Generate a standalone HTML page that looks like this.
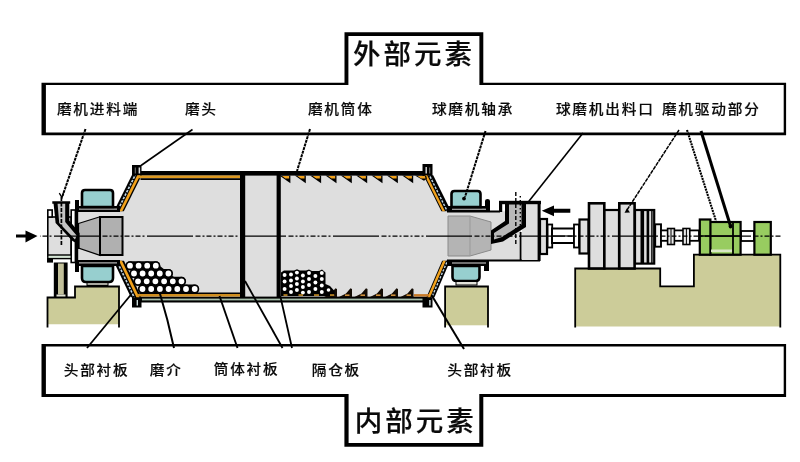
<!DOCTYPE html>
<html lang="zh">
<head>
<meta charset="utf-8">
<title>球磨机结构</title>
<style>
html,body{margin:0;padding:0;background:#fff;}
body{width:800px;height:462px;overflow:hidden;position:relative;font-family:"Liberation Sans","Noto Sans CJK SC",sans-serif;}
svg{position:absolute;left:0;top:0;display:block;}
.lbl{font-family:"Liberation Sans","Noto Sans CJK SC",sans-serif;font-size:13.6px;letter-spacing:1.65px;fill:#0a0a0a;font-weight:500;stroke:#0a0a0a;stroke-width:0.14px;}
.ttl{font-family:"Liberation Sans","Noto Sans CJK SC",sans-serif;font-size:27.5px;letter-spacing:3px;fill:#0a0a0a;font-weight:500;stroke:#0a0a0a;stroke-width:0.2px;}
</style>
</head>
<body>
<svg width="800" height="462" viewBox="0 0 800 462">
<rect x="0" y="0" width="800" height="462" fill="#fff"/>

<!-- ===== FRAMES ===== -->
<g id="frames" fill="#000" fill-rule="evenodd" stroke="none">
  <path d="M41.5,82.7 H344.5 V32.3 H483.3 V82.7 H786.1 V135.3 H41.5 Z M45.9,85.1 H348.4 V36 H479.4 V85.1 H783.7 V132.4 H45.9 Z"/>
  <path d="M41.5,344 H786.1 V397 H483.3 V446.7 H344.4 V397 H41.5 Z M45.9,346.5 H783.7 V394 H479.3 V443 H348.6 V394 H45.9 Z"/>
</g>

<!-- ===== PEDESTALS / FOUNDATIONS ===== -->
<g id="foundations" fill="#cccc99" stroke="none">
  <path d="M47.5,297.5 H75 V286.5 H119 V324.3 H47.5 Z"/>
  <rect x="445" y="286.5" width="43" height="38.8"/>
  <path d="M575,268.5 H660 V286.4 H693.9 V254.7 H780.5 V326.4 H575 Z"/>
</g>
<g fill="none" stroke="#000" stroke-width="1.8">
  <path d="M47.5,327.5 V297.5 H75 V286.5 H119 V327.5"/>
  <path d="M445.1,327.5 V286.5 H488 V327.5"/>
  <path d="M575.2,327.5 V268.5 H660.2 V286.4 H693.9 V254.7 H780.3 V327.5"/>
</g>

<!-- ===== MILL BODY ===== -->
<g id="mill">
  <!-- interior gray -->
  <path d="M140.9,175 H424.3 L442.2,211.3 L442.9,260.8 L427.3,297.2 H140.6 L123.2,260.8 L123.0,211.3 Z" fill="#dedede"/>
  <rect x="75" y="211" width="50" height="50" fill="#dedede"/>
  <rect x="436" y="211.3" width="85" height="49.5" fill="#dedede"/>

  <!-- shell top / bottom -->
  <rect x="139" y="171" width="286" height="4.6" fill="#000"/>
  <rect x="134" y="296.6" width="297" height="5.9" fill="#000"/>
  <rect x="142" y="298.6" width="281" height="1.8" fill="#a8c0ac"/>

  <!-- flanges -->
  <rect x="132" y="165" width="9.5" height="11" fill="#000"/>
  <rect x="422.5" y="164" width="10" height="12" fill="#000"/>
  <rect x="132" y="297" width="9.5" height="10.5" fill="#000"/>
  <rect x="422.5" y="297" width="10" height="10.5" fill="#000"/>
  <rect x="138.6" y="167.5" width="1.5" height="6" fill="#ddd"/><rect x="134.8" y="167.5" width="0.9" height="6" fill="#888"/>
  <rect x="425.5" y="167" width="1.4" height="6.5" fill="#ddd"/><rect x="429.3" y="167.5" width="0.9" height="6" fill="#888"/>
  <rect x="136.6" y="300" width="1.4" height="5.5" fill="#cdd"/>
  <rect x="429.2" y="300" width="1.4" height="5.5" fill="#cdd"/>

  <!-- cones -->
  <path d="M131.82,175.30 L141.72,175.30 L123.83,211.30 L113.93,211.30 Z" fill="#000"/>
  <path d="M134.22,175.30 L136.02,175.30 L118.13,211.30 L116.33,211.30 Z" fill="#c6dcea"/>
  <path d="M137.22,175.30 L140.22,175.30 L122.33,211.30 L119.33,211.30 Z" fill="#f2a21c"/>
  <line x1="135.12" y1="175.30" x2="117.23" y2="211.30" stroke="#000" stroke-width="2" stroke-dasharray="1.4 2.4"/>
  <path d="M433.18,175.30 L423.48,175.30 L441.37,211.30 L451.07,211.30 Z" fill="#000"/>
  <path d="M430.18,175.30 L428.58,175.30 L446.47,211.30 L448.07,211.30 Z" fill="#c6dcea"/>
  <path d="M427.18,175.30 L424.58,175.30 L442.47,211.30 L445.07,211.30 Z" fill="#f2a21c"/>
  <line x1="429.38" y1="175.30" x2="447.27" y2="211.30" stroke="#000" stroke-width="2" stroke-dasharray="1.4 2.4"/>
  <path d="M130.84,297.20 L141.44,297.20 L123.97,260.80 L113.37,260.80 Z" fill="#000"/>
  <path d="M133.24,297.20 L135.04,297.20 L117.57,260.80 L115.77,260.80 Z" fill="#c6dcea"/>
  <path d="M136.44,297.20 L139.44,297.20 L121.97,260.80 L118.97,260.80 Z" fill="#f2a21c"/>
  <line x1="134.14" y1="297.20" x2="116.67" y2="260.80" stroke="#000" stroke-width="2" stroke-dasharray="1.4 2.4"/>
  <path d="M434.47,297.20 L426.47,297.20 L442.12,260.80 L450.12,260.80 Z" fill="#000"/>
  <path d="M432.57,297.20 L431.07,297.20 L446.72,260.80 L448.22,260.80 Z" fill="#c6dcea"/>
  <path d="M430.17,297.20 L427.47,297.20 L443.12,260.80 L445.82,260.80 Z" fill="#f2a21c"/>
  <line x1="431.82" y1="297.20" x2="447.47" y2="260.80" stroke="#000" stroke-width="2" stroke-dasharray="1.4 2.4"/>
  <!-- orange liner straight parts -->
  <g stroke="#dd981f" fill="none">
    <path d="M240,176.85 H138.4" stroke-width="2.7"/>
    <path d="M240,295.3 H137.4" stroke-width="2.6" stroke="#cf8d1e"/>
  </g>
  <path d="M414,295.3 H429" stroke="#c87a28" stroke-width="2.4" fill="none"/>
  <g stroke="#000" fill="none">
    <path d="M240,179.1 H140.5" stroke-width="1.8"/>
    <path d="M240,293.15 H139.6" stroke-width="1.5"/>
  </g>

  <!-- partitions -->
  <rect x="240" y="175" width="5.2" height="122" fill="#000"/>
  <rect x="276.6" y="175" width="4.2" height="122" fill="#000"/>

  <!-- top saw-tooth liner -->
  <g fill="#000">
    <path d="M279.4,175.4 H290.4 V183.2 Z"/>
    <path d="M294.8,175.4 H305.8 V183.2 Z"/>
    <path d="M310.1,175.4 H321.1 V183.2 Z"/>
    <path d="M325.5,175.4 H336.5 V183.2 Z"/>
    <path d="M340.8,175.4 H351.8 V183.2 Z"/>
    <path d="M356.2,175.4 H367.2 V183.2 Z"/>
    <path d="M371.5,175.4 H382.5 V183.2 Z"/>
    <path d="M386.9,175.4 H397.9 V183.2 Z"/>
    <path d="M402.2,175.4 H413.2 V183.2 Z"/>
    <path d="M415,175.4 H426 L427,178.5 L424,180.8 Z"/>
  </g>
  <g fill="#f2a21c">
    <path d="M282.0,176 H289.1 V178.5 H285.4 Z"/>
    <path d="M297.4,176 H304.5 V178.5 H300.8 Z"/>
    <path d="M312.7,176 H319.8 V178.5 H316.1 Z"/>
    <path d="M328.1,176 H335.2 V178.5 H331.5 Z"/>
    <path d="M343.4,176 H350.5 V178.5 H346.8 Z"/>
    <path d="M358.8,176 H365.9 V178.5 H362.2 Z"/>
    <path d="M374.1,176 H381.2 V178.5 H377.5 Z"/>
    <path d="M389.4,176 H396.6 V178.5 H392.9 Z"/>
    <path d="M404.8,176 H411.9 V178.5 H408.2 Z"/>
    <path d="M417.6,176 H424.8 L425.6,178.4 H421 Z"/>
  </g>
  <!-- bottom saw-tooth liner -->
  <g fill="#140c04" stroke="none">
    <path d="M324,297 L331,293.5 L335.5,288.3 L337,289 V297 Z"/>
    <path d="M339,297 L346,293.5 L350.5,288.3 L352,289 V297 Z"/>
    <path d="M354.5,297 L361.5,293.5 L366,288.3 L367.5,289 V297 Z"/>
    <path d="M370,297 L377,293.5 L381.5,288.3 L383,289 V297 Z"/>
    <path d="M385,297 L392,293.5 L396.5,288.3 L398,289 V297 Z"/>
    <path d="M400.5,297 L407.5,293.5 L412,288.3 L413.5,289 V297 Z"/>
  </g>
  <g fill="#d0903a">
    <rect x="330" y="294.4" width="4.5" height="1.6"/>
    <rect x="345" y="294.4" width="4.5" height="1.6"/>
    <rect x="360.5" y="294.4" width="4.5" height="1.6"/>
    <rect x="376" y="294.4" width="4.5" height="1.6"/>
    <rect x="391" y="294.4" width="4.5" height="1.6"/>
    <rect x="406.5" y="294.4" width="4.5" height="1.6"/>
  </g>
</g>

<!-- ===== BALLS (large) ===== -->
<g fill="#000">
  <rect x="125.5" y="261.2" width="34.8" height="9" rx="4.5"/>
  <rect x="129.5" y="269" width="43.4" height="9" rx="4.5"/>
  <rect x="133.5" y="276.8" width="52.5" height="9" rx="4.5"/>
  <rect x="138" y="284.5" width="61.2" height="9" rx="4.5"/>
  <path d="M130,266 L143,290 H190 L160,266 Z"/>
</g>
<g id="balls" fill="#fff" stroke="#000" stroke-width="1.6">
  <circle cx="130" cy="265.7" r="3.7"/><circle cx="138.6" cy="265.7" r="3.7"/><circle cx="147.2" cy="265.7" r="3.7"/><circle cx="155.8" cy="265.7" r="3.7"/>
  <circle cx="134" cy="273.5" r="3.7"/><circle cx="142.6" cy="273.5" r="3.7"/><circle cx="151.2" cy="273.5" r="3.7"/><circle cx="159.8" cy="273.5" r="3.7"/><circle cx="168.4" cy="273.5" r="3.7"/>
  <circle cx="138" cy="281.3" r="3.7"/><circle cx="146.7" cy="281.3" r="3.7"/><circle cx="155.4" cy="281.3" r="3.7"/><circle cx="164.1" cy="281.3" r="3.7"/><circle cx="172.8" cy="281.3" r="3.7"/><circle cx="181.5" cy="281.3" r="3.7"/>
  <circle cx="142.5" cy="289" r="3.7"/><circle cx="151.2" cy="289" r="3.7"/><circle cx="159.9" cy="289" r="3.7"/><circle cx="168.6" cy="289" r="3.7"/><circle cx="177.3" cy="289" r="3.7"/><circle cx="186" cy="289" r="3.7"/><circle cx="194.7" cy="289" r="3.7"/>
</g>
<!-- ===== BALLS (small) ===== -->
<g id="balls2">
  <path d="M281,296 V272.5 L284,270.5 H294 L297,269.3 L300,270.5 H306 L309,269.6 L312,271 H319 L322,269.6 L325.5,272.5 V284 L330,286 L334.5,291 V296 Z" fill="#000"/>
  <g fill="#fff"><circle cx="284.6" cy="275" r="1.95"/><circle cx="284.6" cy="281.5" r="1.95"/><circle cx="284.6" cy="289" r="1.95"/><circle cx="291" cy="274.5" r="1.95"/><circle cx="291" cy="280.5" r="1.95"/><circle cx="291" cy="286" r="1.95"/><circle cx="291" cy="292" r="1.95"/><circle cx="296.9" cy="272.6" r="1.95"/><circle cx="296.9" cy="278.5" r="1.95"/><circle cx="296.9" cy="284" r="1.95"/><circle cx="296.9" cy="290" r="1.95"/><circle cx="302.9" cy="275.5" r="1.95"/><circle cx="302.9" cy="281.5" r="1.95"/><circle cx="302.9" cy="287" r="1.95"/><circle cx="302.9" cy="292.6" r="1.95"/><circle cx="309" cy="273" r="1.95"/><circle cx="309" cy="279" r="1.95"/><circle cx="309" cy="285" r="1.95"/><circle cx="309" cy="292" r="1.95"/><circle cx="315.4" cy="276" r="1.95"/><circle cx="315.4" cy="282.5" r="1.95"/><circle cx="315.4" cy="289" r="1.95"/><circle cx="321.8" cy="273" r="1.95"/><circle cx="321.8" cy="279" r="1.95"/><circle cx="321.8" cy="285.5" r="1.95"/><circle cx="321.8" cy="292" r="1.95"/><circle cx="328.5" cy="290" r="1.8"/></g>
  <g fill="#d89a2a"><rect x="283.5" y="294.3" width="4" height="1.5"/><rect x="298.5" y="294.3" width="4.5" height="1.5"/><rect x="314" y="294.3" width="5" height="1.5"/><rect x="330" y="294.3" width="4" height="1.5"/></g>
</g>

<!-- ===== LEFT TRUNNION + BEARINGS ===== -->
<g id="left-end">
  <!-- inner dark parts -->
  <path d="M78.5,223.5 L100,216.8 V255.4 L78.5,248 Z" fill="#b0b0b0" stroke="#000" stroke-width="1.2"/>
  <rect x="100" y="217" width="22.5" height="38" fill="#b0b0b0" stroke="#000" stroke-width="2"/>
  <!-- upper bearing -->
  <path d="M75,200 H79 V206 H120 V212 H75 Z" fill="#000"/>
  <rect x="79" y="208.6" width="38" height="1" fill="#ddd"/>
  <path d="M82,207 V193 Q82,190 85,190 H110 Q113,190 113,193 V207 Z" fill="#97cfcf" stroke="#000" stroke-width="2.6"/>
  <!-- lower bearing -->
  <path d="M75,272 H79 V266 H120 V260 H75 Z" fill="#000"/>
  <rect x="79" y="262.4" width="38" height="1" fill="#ddd"/>
  <path d="M82,266 V278 Q82,282 86,282 H109 Q113,282 113,278 V266 Z" fill="#97cfcf" stroke="#000" stroke-width="2.6"/>
  <rect x="87" y="282.5" width="21" height="3" fill="#a8a8a0" stroke="#000" stroke-width="1"/>

  <!-- feed housing -->
  <rect x="47.8" y="217" width="23.4" height="39" fill="#dedede" stroke="#000" stroke-width="1.6"/>
  <rect x="47.8" y="210" width="4.4" height="7" fill="#fff" stroke="#000" stroke-width="1.6"/>
  <rect x="71.2" y="210" width="4.2" height="52.5" fill="#fff" stroke="#000" stroke-width="1.6"/>
  <rect x="47.8" y="255" width="23.4" height="3.6" fill="#d6e6d6" stroke="#000" stroke-width="1.4"/>
  <rect x="47" y="258" width="6" height="4.6" fill="#000"/>
  <rect x="75.4" y="200.8" width="2.8" height="69.5" fill="#000"/>
  <!-- chute -->
  <path d="M52.3,201.3 H70.2 V203.8 H69.3 V220.5 L79.6,233 V249 H77 V243.5 L72.5,241 L55.6,223 L53.6,203.8 H52.3 Z" fill="#000"/>
  <path d="M57.6,203.8 H65.2 V222 L76.6,235.6 L75,239.6 L59.2,223 Z" fill="#c4c4c4"/>
  <line x1="61.4" y1="197" x2="61.4" y2="246" stroke="#000" stroke-width="1.7" stroke-dasharray="4 1.5"/>
  <!-- support post -->
  <rect x="53.8" y="262.5" width="13.8" height="35" fill="#000"/>
  <rect x="58" y="263.5" width="5.8" height="31" fill="#c2c09a"/>
  <rect x="56.5" y="294.5" width="9" height="2" fill="#e4e4d4"/>
</g>

<!-- ===== RIGHT TRUNNION + OUTLET ===== -->
<g id="right-end">
  <path d="M448,216 H470 L491,222 V250 L470,256 H448 Z" fill="#b4b4b4" stroke="#8a8a8a" stroke-width="1"/>
  <line x1="470" y1="216" x2="470" y2="256" stroke="#999" stroke-width="1"/>
  <!-- upper bearing -->
  <path d="M447,206 H485 V201 Q485,199 487.5,199 Q490,199 490,201 V210.5 H500 V212.6 H447 Z" fill="#000"/>
  <rect x="452" y="208.7" width="34" height="1" fill="#ddd"/>
  <path d="M451.5,207 V194 Q451.5,191 454.5,191 H477.5 Q480.5,191 480.5,194 V207 Z" fill="#97cfcf" stroke="#000" stroke-width="2.6"/>
  <!-- lower bearing -->
  <path d="M447,259.5 H540 V261.5 H489 V271 H484 V266 H447 Z" fill="#000"/>
  <rect x="452" y="262.5" width="34" height="1" fill="#ddd"/>
  <path d="M452.5,266 V277 Q452.5,281 456.5,281 H475.5 Q479.5,281 479.5,277 V266 Z" fill="#97cfcf" stroke="#000" stroke-width="2.6"/>
  <rect x="456" y="281.5" width="21" height="3.5" fill="#e4e4dc" stroke="#000" stroke-width="1"/>

  <!-- outlet housing -->
  <rect x="522" y="204" width="17" height="56" fill="#dedede"/>
  <path d="M499,201 H541 V213 H538.5 V260 H540.5" fill="none" stroke="#000" stroke-width="0"/>
  <rect x="499" y="200.8" width="42" height="3.4" fill="#000"/>
  <rect x="499" y="201" width="3.2" height="11" fill="#000"/>
  <rect x="537.6" y="201" width="3" height="60" fill="#000"/>
  <rect x="519.7" y="232" width="1.8" height="28" fill="#000"/>
  <!-- chute -->
  <path d="M505,203 H526 V227 L503,241.5 L491,244 V230.5 L505,221 Z" fill="#000"/>
  <path d="M509,204.5 H521.5 V224.5 L502,237 L494,239.5 V233 L509,223.5 Z" fill="#b8b8b8"/>
  <line x1="515.8" y1="192" x2="515.8" y2="246" stroke="#000" stroke-width="1.4" stroke-dasharray="4 2"/>
  <line x1="520.3" y1="196" x2="520.3" y2="232" stroke="#000" stroke-width="1.4" stroke-dasharray="1.5 2.5"/>
</g>

<!-- ===== DRIVE TRAIN ===== -->
<g id="drive" stroke="#000" stroke-width="2.2" fill="#dedede">
  <rect x="540" y="219" width="7" height="35"/>
  <rect x="547.6" y="224.5" width="4.6" height="23" fill="#fff" stroke-width="1.8"/>
  <rect x="552" y="228.5" width="22" height="14.5" fill="#fff" stroke-width="2"/>
  <rect x="574" y="224.5" width="5" height="23" fill="#fff" stroke-width="1.8"/>
  <rect x="579.5" y="219.5" width="9" height="34"/>
  <rect x="604" y="210" width="15" height="58.5"/>
  <rect x="589" y="203.3" width="15.3" height="65.2" stroke-width="2.6"/>
  <rect x="619.3" y="203.3" width="15.3" height="65.2" stroke-width="2.6"/>
  <rect x="635" y="210" width="19.2" height="53.6"/>
  <rect x="655.2" y="224.3" width="5.8" height="22.4" fill="#f4f4f4" stroke-width="1.9"/>
</g>
<g fill="#000">
  <rect x="640.5" y="210" width="3.6" height="53"/>
  <rect x="646.6" y="210" width="2.6" height="53"/>
  <rect x="651.2" y="210" width="1.4" height="53"/>
</g>
<!-- motor shaft + couplings -->
<rect x="661" y="230.4" width="38" height="10.4" fill="#fff" stroke="#000" stroke-width="1.8"/>
<g fill="#e8e8e8" stroke="#000" stroke-width="1.6">
  <rect x="667.6" y="228.5" width="6.8" height="16"/>
  <rect x="683" y="228.5" width="6.8" height="16"/>
</g>
<line x1="671" y1="229" x2="671" y2="244" stroke="#000" stroke-width="1"/>
<line x1="686.4" y1="229" x2="686.4" y2="244" stroke="#000" stroke-width="1"/>
<rect x="741" y="231" width="13" height="10" fill="#fff" stroke="#000" stroke-width="1.8"/>
<!-- motor (green) -->
<g fill="#98cc60" stroke="#000" stroke-width="2.2">
  <rect x="710" y="222" width="30.6" height="32.7"/>
  <rect x="699.8" y="219.5" width="10.6" height="35.2"/>
  <rect x="754.4" y="222" width="16.4" height="32.7"/>
</g>
<line x1="733" y1="222" x2="733" y2="254" stroke="#000" stroke-width="1.8"/>
<rect x="711" y="249.5" width="21" height="2.6" fill="#d9e6c6"/>
<line x1="699" y1="236" x2="741" y2="236" stroke="#000" stroke-width="1.4"/>

<!-- ===== CENTER LINE ===== -->
<line x1="40" y1="236" x2="781" y2="236" stroke="#000" stroke-width="1.25" stroke-dasharray="46 2.5 5 2 2 2 5 2 2 2 5 2 2 2 5 2 2 2.5" stroke-dashoffset="79"/>
<line x1="552" y1="236" x2="574" y2="236" stroke="#000" stroke-width="1.2"/>

<!-- ===== ARROWS ===== -->
<path d="M16,234.4 H25.5 V230.4 L37.5,236 L25.5,242.4 V237.6 H16 Z" fill="#000"/>
<path d="M570.3,208.7 H554 V205.5 L541.8,210.8 L554,216.3 V212.8 H570.3 Z" fill="#000"/>

<!-- ===== LEADER LINES ===== -->
<g id="leaders" stroke="#000" fill="none">
  <!-- top -->
  <line x1="85.5" y1="129" x2="62.5" y2="196" stroke-width="2" stroke-dasharray="3 0.8"/>
  <path d="M59.3,193.2 L62,197.6 L63.6,192.4" stroke-width="1.3"/>
  <line x1="192.5" y1="129.5" x2="141" y2="165.5" stroke-width="1.6"/>
  <line x1="310" y1="129" x2="297" y2="171" stroke-width="2" stroke-dasharray="3 0.8"/>
  <line x1="485.5" y1="131" x2="465" y2="197" stroke-width="2" stroke-dasharray="3 0.8"/>
  <line x1="583" y1="133" x2="527.5" y2="203" stroke-width="1.6"/>
  <line x1="679" y1="130" x2="627" y2="210" stroke-width="1.5" stroke-dasharray="4 0.8"/>
  <line x1="687" y1="130" x2="716" y2="221" stroke-width="2.1" stroke-dasharray="2 0.8"/>
  <line x1="701" y1="131" x2="730.5" y2="226" stroke-width="3"/>
  <!-- bottom -->
  <line x1="87" y1="348" x2="131.5" y2="294" stroke-width="1.8"/>
  <path d="M174,348 Q168,320 159.5,292" stroke-width="2"/>
  <line x1="237.5" y1="348" x2="219.5" y2="296" stroke-width="1.9"/>
  <line x1="282.5" y1="348" x2="245" y2="281" stroke-width="1.8"/>
  <line x1="292" y1="348" x2="280.3" y2="296" stroke-width="1.8"/>
  <line x1="464" y1="349" x2="431.5" y2="295" stroke-width="2"/>
</g>
<circle cx="464" cy="198.6" r="1.9" fill="#000"/>
<path d="M624.5,212.8 L627,208.3 L630,212.6 Z" fill="#000"/>
<ellipse cx="730.5" cy="226.3" rx="1.8" ry="2.2" fill="#000"/>

<!-- ===== TEXT ===== -->
<g class="lbl" style="filter:grayscale(1)">
  <text transform="translate(56.9 114.1) scale(1.08 1)">磨机进料端</text>
  <text transform="translate(184.9 114.1) scale(1.08 1)">磨头</text>
  <text transform="translate(307.9 114.1) scale(1.08 1)">磨机筒体</text>
  <text transform="translate(431.9 114.1) scale(1.08 1)">球磨机轴承</text>
  <text transform="translate(555.9 114.1) scale(1.08 1)">球磨机出料口</text>
  <text transform="translate(661.9 114.1) scale(1.08 1)">磨机驱动部分</text>
  <text transform="translate(63.7 375.3) scale(1.08 1)">头部衬板</text>
  <text transform="translate(149.7 375.3) scale(1.08 1)">磨介</text>
  <text transform="translate(213.7 374) scale(1.08 1)">筒体衬板</text>
  <text transform="translate(311.7 375.3) scale(1.08 1)">隔仓板</text>
  <text transform="translate(447.2 375.3) scale(1.08 1)">头部衬板</text>
</g>
<text class="ttl" style="filter:grayscale(1)" x="353" y="63.5">外部元素</text>
<text class="ttl" style="filter:grayscale(1)" x="354.8" y="431.3">内部元素</text>
</svg>
</body>
</html>
